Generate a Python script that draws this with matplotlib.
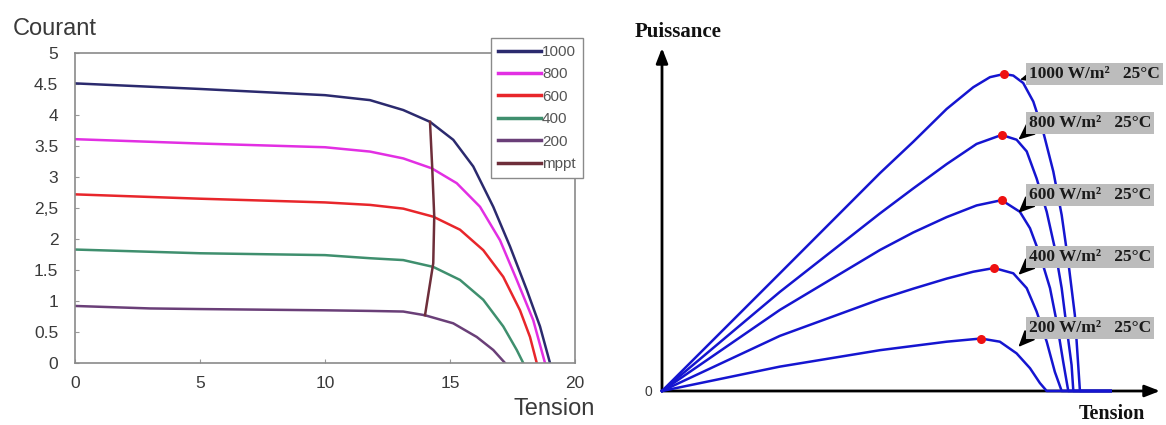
#!/usr/bin/env python3
# -*- coding: utf-8 -*-

"""I-V and P-V characteristics of a PV panel for several irradiances"""

import numpy as np
import matplotlib
matplotlib.use('Agg')
import matplotlib.pyplot as plt

# --- left chart: current vs voltage for each irradiance (W/m2) ---
iv_labels = ['1000', '800', '600', '400', '200']
iv_colors = ['#2b2a6e', '#e22fe3', '#e8262b', '#3f8f6e', '#6a3f78']

v_1000 = [0, 5, 10, 11.8, 13.13, 14.2, 15.13, 15.93, 16.73, 17.4, 18.07, 18.6, 19.0]
i_1000 = [4.51, 4.42, 4.32, 4.24, 4.08, 3.89, 3.60, 3.17, 2.52, 1.88, 1.18, 0.59, 0]
v_800 = [0, 5, 10, 11.8, 13.13, 14.27, 15.27, 16.2, 17.0, 17.67, 18.33, 18.8]
i_800 = [3.61, 3.54, 3.48, 3.41, 3.30, 3.14, 2.90, 2.52, 1.98, 1.34, 0.69, 0]
v_600 = [0, 5, 10, 11.8, 13.13, 14.33, 15.4, 16.33, 17.13, 17.8, 18.2, 18.47]
i_600 = [2.72, 2.65, 2.59, 2.55, 2.49, 2.36, 2.15, 1.82, 1.39, 0.85, 0.42, 0]
v_400 = [0, 5, 10, 11.8, 13.13, 14.33, 15.4, 16.33, 17.13, 17.67, 17.93]
i_400 = [1.83, 1.77, 1.74, 1.69, 1.66, 1.55, 1.34, 1.02, 0.59, 0.21, 0]
v_200 = [0, 3, 5, 10, 11.8, 13.13, 14.0, 15.13, 16.07, 16.73, 17.2]
i_200 = [0.92, 0.88, 0.87, 0.85, 0.84, 0.83, 0.77, 0.64, 0.42, 0.21, 0]

v_mppt = [14.0, 14.33, 14.37, 14.29, 14.2]
i_mppt = [0.77, 1.61, 2.36, 3.14, 3.89]

# --- right chart: power vs voltage ---
pv_labels = ['1000 W/m\u00b2   25\u00b0C', '800 W/m\u00b2   25\u00b0C', '600 W/m\u00b2   25\u00b0C',
             '400 W/m\u00b2   25\u00b0C', '200 W/m\u00b2   25\u00b0C']

pv_v_1000 = [0, 5.36, 9.91, 11.42, 12.94, 14.15, 14.91, 15.55, 15.97, 16.42, 16.88,
             17.33, 17.79, 18.17, 18.47, 18.77, 19.0, 20.4]
pv_p_1000 = [0, 22.2, 41.1, 47.0, 53.2, 57.3, 59.2, 59.8, 59.5, 58.1, 54.6,
             48.9, 41.4, 33.2, 24.4, 14.3, 0, 0]
pv_v_800 = [0, 5.36, 9.91, 11.42, 12.94, 14.30, 15.44, 16.12, 16.58, 17.03, 17.49,
            17.86, 18.17, 18.42, 18.62, 18.70, 20.4]
pv_p_800 = [0, 18.7, 33.5, 38.2, 42.8, 46.6, 48.3, 47.4, 45.2, 40.1, 33.8,
            26.9, 19.4, 11.2, 4.9, 0, 0]
pv_v_600 = [0, 5.36, 9.91, 11.42, 12.94, 14.30, 15.44, 16.27, 16.73, 17.18, 17.64,
            17.94, 18.24, 18.47, 20.4]
pv_p_600 = [0, 15.3, 26.6, 29.9, 32.8, 35.0, 36.0, 33.8, 30.7, 25.7, 19.4,
            13.1, 5.5, 0, 0]
pv_v_400 = [0, 5.36, 9.91, 11.42, 12.94, 14.15, 15.10, 15.97, 16.58, 17.03, 17.49,
            17.86, 18.17, 20.4]
pv_p_400 = [0, 10.4, 17.3, 19.3, 21.2, 22.5, 23.2, 22.2, 19.4, 15.0, 9.3,
            3.6, 0, 0]
pv_v_200 = [0, 5.36, 9.91, 11.42, 12.94, 14.50, 15.36, 16.12, 16.73, 17.18, 17.49, 20.4]
pv_p_200 = [0, 4.6, 7.7, 8.5, 9.3, 9.9, 9.3, 7.1, 4.3, 1.5, 0, 0]

# label positions (V, P) and arrow tips (V, P)
lab_v = [16.68, 16.68, 16.68, 16.68, 16.68]
lab_p = [59.8, 50.6, 37.0, 25.3, 11.9]
tip_v = [16.27, 16.2, 16.2, 16.2, 16.2]
tip_p = [58.7, 47.4, 33.6, 21.9, 8.3]

W, H = 1166, 425
fig = plt.figure(figsize=(W / 100, H / 100), dpi=100)

sans = ['Liberation Sans Narrow', 'Liberation Sans', 'DejaVu Sans']
serif = ['Liberation Serif', 'DejaVu Serif']
grey_txt = '#3a3a3a'

# ---------------- left chart ----------------
ax1 = fig.add_axes([75 / W, 1 - 363 / H, 500 / W, 310 / H])
iv_v = [v_1000, v_800, v_600, v_400, v_200]
iv_i = [i_1000, i_800, i_600, i_400, i_200]
for vv, ii, lab, col in zip(iv_v, iv_i, iv_labels, iv_colors):
    ax1.plot(vv, ii, color=col, lw=1.8, label=lab, solid_joinstyle='round')
ax1.plot(v_mppt, i_mppt, color='#6e2e3a', lw=1.8, label='mppt', zorder=3)

ax1.set_xlim(0, 20)
ax1.set_ylim(0, 5)
ax1.set_xticks(np.arange(0, 21, 5))
ax1.set_yticks(np.arange(0, 5.01, 0.5))
ax1.set_yticklabels(['0', '0.5', '1', '1.5', '2', '2,5', '3', '3.5', '4', '4.5', '5'])
ax1.tick_params(direction='in', length=3, color='#999999', labelsize=12.5,
                labelcolor=grey_txt)
ax1.tick_params(axis='y', pad=12)
ax1.tick_params(axis='x', pad=9)
for lbl in ax1.get_xticklabels() + ax1.get_yticklabels():
    lbl.set_family(sans)
for sp in ax1.spines.values():
    sp.set_color('#8a8a8a')
    sp.set_linewidth(1.2)

leg = ax1.legend(loc='upper right', bbox_to_anchor=(1.016, 1.048), fancybox=False,
                 edgecolor='#8a8a8a', framealpha=1, prop={'family': sans, 'size': 11},
                 handlelength=2.8, handletextpad=0.1, labelspacing=0.55,
                 borderpad=0.45, borderaxespad=0)
for t in leg.get_texts():
    t.set_color('#555555')
for ln in leg.get_lines():
    ln.set_linewidth(2.5)

fig.text(13 / W, 1 - 29 / H, 'Courant', family=sans, fontsize=17, color=grey_txt,
         ha='left', va='center')
fig.text(513 / W, 1 - 409 / H, 'Tension', family=sans, fontsize=17, color=grey_txt,
         ha='left', va='center')

# ---------------- right chart ----------------
ax2 = fig.add_axes([662 / W, 1 - 391 / H, 498 / W, 343 / H])
ax2.set_xlim(0, 22.64)
ax2.set_ylim(0, 64.7)
ax2.axis('off')

arrow = dict(arrowstyle='-|>,head_length=0.9,head_width=0.35', color='black', lw=2,
             shrinkA=0, shrinkB=0)
ax2.annotate('', xy=(0, 1), xytext=(0, 0), xycoords='axes fraction', arrowprops=arrow)
ax2.annotate('', xy=(1, 0), xytext=(0, 0), xycoords='axes fraction', arrowprops=arrow)

pv_v = [pv_v_1000, pv_v_800, pv_v_600, pv_v_400, pv_v_200]
pv_p = [pv_p_1000, pv_p_800, pv_p_600, pv_p_400, pv_p_200]
for vv, pp in zip(pv_v, pv_p):
    ax2.plot(vv, pp, color='#1515d0', lw=1.8, clip_on=False, zorder=3,
             solid_joinstyle='round')
    k = int(np.argmax(pp))
    ax2.plot(vv[k], pp[k], 'o', color='#ee1111', ms=6.5, mec='none', zorder=4)

for k, lab in enumerate(pv_labels):
    rel = (0.0, 0.3) if k == 0 else (0.0, 0.0)
    ax2.annotate(lab, xy=(tip_v[k], tip_p[k]), xytext=(lab_v[k], lab_p[k]),
                 ha='left', va='center', family=serif, fontweight='bold', fontsize=12.5,
                 color='#1a1a1a', annotation_clip=False, zorder=5,
                 bbox=dict(boxstyle='square,pad=0.18', fc='#bcbcbc', ec='none'),
                 arrowprops=dict(arrowstyle='-|>,head_length=0.8,head_width=0.35',
                                 color='black', lw=1.3, relpos=rel,
                                 shrinkA=0, shrinkB=0))

fig.text(678 / W, 1 - 32 / H, 'Puissance', family=serif, fontweight='bold', fontsize=15,
         ha='center', va='center', color='#111111')
fig.text(1112 / W, 1 - 414 / H, 'Tension', family=serif, fontweight='bold', fontsize=14.5,
         ha='center', va='center', color='#111111')
fig.text(648 / W, 1 - 392 / H, '0', family=sans, fontsize=10, ha='center', va='center',
         color=grey_txt)

fig.savefig('out.png', dpi=100)
